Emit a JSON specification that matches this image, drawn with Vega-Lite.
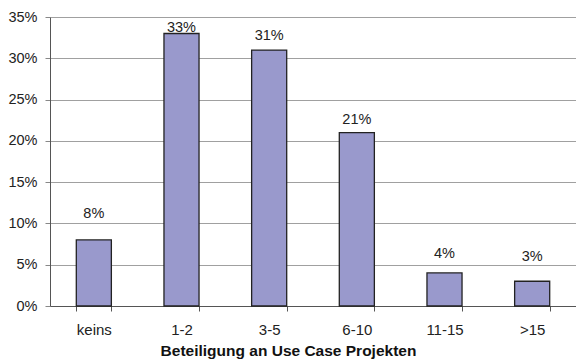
{
  "$schema": "https://vega.github.io/schema/vega-lite/v6.json",
  "width": 526,
  "height": 289,
  "autosize": {"type": "none"},
  "padding": {"left": 50, "top": 17, "right": 0, "bottom": 55},
  "background": "white",
  "config": {
    "view": {"stroke": null},
    "font": "Liberation Sans",
    "axis": {"labelFont": "Liberation Sans", "titleFont": "Liberation Sans"},
    "text": {"baseline": "alphabetic", "fontSize": 14.5, "color": "#222", "font": "Liberation Sans"}
  },
  "data": {
    "values": [
      {"kategorie": "keins", "anteil": 0.08},
      {"kategorie": "1-2", "anteil": 0.33},
      {"kategorie": "3-5", "anteil": 0.31},
      {"kategorie": "6-10", "anteil": 0.21},
      {"kategorie": "11-15", "anteil": 0.04},
      {"kategorie": ">15", "anteil": 0.03}
    ]
  },
  "encoding": {
    "x": {
      "field": "kategorie",
      "type": "nominal",
      "sort": null,
      "scale": {"paddingInner": 0.6, "paddingOuter": 0.3},
      "axis": {
        "title": "Beteiligung an Use Case Projekten",
        "titleFontSize": 15.5,
        "titleFontWeight": "bold",
        "titleColor": "#111",
        "titleX": 238,
        "titleY": 49,
        "titleAlign": "center",
        "titleAnchor": null,
        "titleBaseline": "alphabetic",
        "labelAngle": 0,
        "labelFontSize": 15,
        "labelColor": "#222",
        "labelPadding": 11,
        "tickBand": "extent",
        "tickSize": 5,
        "tickColor": "#555",
        "domainColor": "#555",
        "grid": false
      }
    },
    "y": {
      "field": "anteil",
      "type": "quantitative",
      "scale": {"domain": [0, 0.35], "nice": false},
      "axis": {
        "title": null,
        "format": ".0%",
        "values": [0, 0.05, 0.1, 0.15, 0.2, 0.25, 0.3, 0.35],
        "labelFontSize": 14.5,
        "labelColor": "#222",
        "labelPadding": 8,
        "tickSize": 5,
        "tickColor": "#888",
        "domainColor": "#555",
        "grid": true,
        "gridColor": "#a0a0a0",
        "gridOpacity": 1
      }
    },
    "text": {"field": "anteil", "type": "quantitative", "format": ".0%"}
  },
  "layer": [
    {
      "mark": {"type": "bar", "color": "#9999cc", "stroke": "#222", "strokeWidth": 1.3},
      "encoding": {"text": null}
    },
    {
      "transform": [{"filter": "datum.kategorie === 'keins'"}],
      "mark": {"type": "text", "dy": -22}
    },
    {
      "transform": [{"filter": "datum.kategorie === '1-2'"}],
      "mark": {"type": "text", "dy": -2}
    },
    {
      "transform": [{"filter": "datum.kategorie === '3-5'"}],
      "mark": {"type": "text", "dy": -10}
    },
    {
      "transform": [{"filter": "datum.kategorie === '6-10'"}],
      "mark": {"type": "text", "dy": -9}
    },
    {
      "transform": [{"filter": "datum.kategorie === '11-15'"}],
      "mark": {"type": "text", "dy": -15}
    },
    {
      "transform": [{"filter": "datum.kategorie === '>15'"}],
      "mark": {"type": "text", "dy": -20}
    }
  ]
}
